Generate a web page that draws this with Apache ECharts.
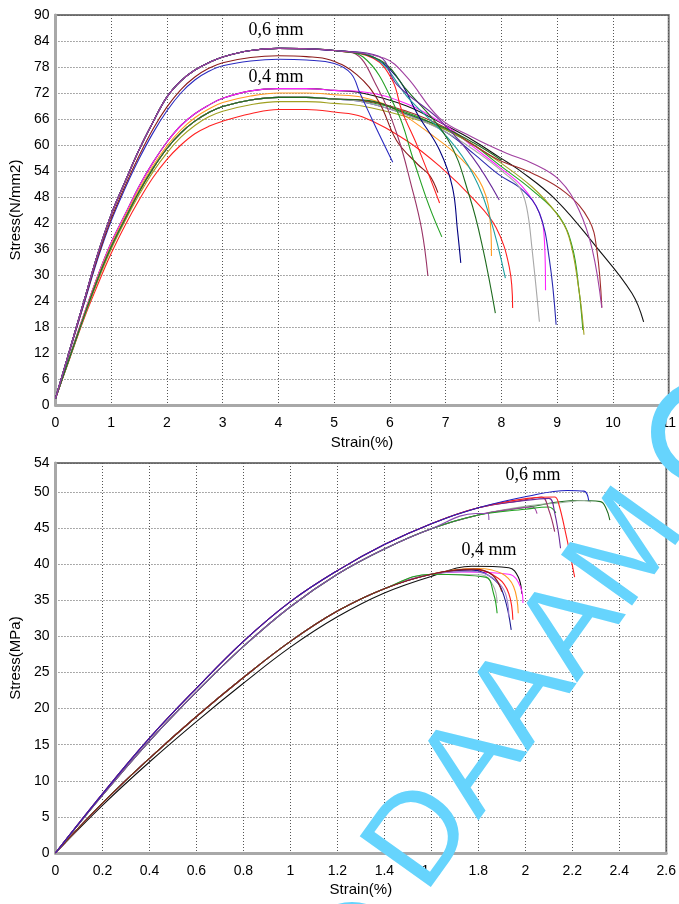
<!DOCTYPE html>
<html>
<head>
<meta charset="utf-8">
<script src="https://cdn.jsdelivr.net/npm/echarts@6/dist/echarts.min.js"></script>
<style>
  html, body { margin: 0; padding: 0; background: #fff; }
  #chart { width: 679px; height: 904px; }
</style>
</head>
<body>
<div id="chart"></div>
<script>
// ---- top panel: Stress(N/mm2) vs Strain(%) ----
const topXTicks = [0, 1, 2, 3, 4, 5, 6, 7, 8, 9, 10, 11]
const topYTicks = [0, 6, 12, 18, 24, 30, 36, 42, 48, 54, 60, 66, 72, 78, 84, 90]

// rising parts, 0.6 mm
const rise06 = [[0,1.5],[0.25,12.5],[0.5,23.5],[0.75,34.5],[1,44],[1.25,51.6],[1.5,58.9],[1.75,65.3],[2,71.1],[2.25,74.8],[2.5,77.3],[2.75,79],[3,80.3],[3.5,81.8],[4,82.3],[4.5,82.2],[5,81.8]]
const rise06b = [[0,1.5],[0.25,12.3],[0.5,23],[0.75,33.8],[1,43],[1.25,50.6],[1.5,57.5],[1.75,63.7],[2,68.8],[2.25,72.8],[2.5,75.7],[2.75,77.7],[3,79],[3.5,80.2],[4,80.6],[4.5,80.4]]
const rise06c = [[0,1.5],[0.25,12.2],[0.5,22.8],[0.75,33.4],[1,42.5],[1.25,50],[1.5,56.8],[1.75,62.8],[2,67.9],[2.25,72],[2.5,75],[2.75,77],[3,78.3],[3.5,79.4],[4,79.8],[4.5,79.6]]
// rising parts, 0.4 mm
const rise04a = [[0,1.5],[0.25,11],[0.5,20.5],[0.75,29.5],[1,37.5],[1.25,44],[1.5,50.5],[1.75,56],[2,60.7],[2.25,64.5],[2.5,67.2],[2.75,69.2],[3,70.8],[3.5,72.5],[4,73],[4.5,73],[5,72.6]]
const rise04b = [[0,1.5],[0.25,11],[0.5,20.3],[0.75,29.2],[1,37],[1.25,43.5],[1.5,49.8],[1.75,55.2],[2,59.8],[2.25,63.5],[2.5,66.3],[2.75,68.3],[3,69.8],[3.5,71.3],[4,72],[4.5,72],[5,71.6]]
const rise04c = [[0,1.5],[0.25,10.8],[0.5,20],[0.75,28.8],[1,36.5],[1.25,43],[1.5,49.2],[1.75,54.6],[2,59.2],[2.25,62.8],[2.5,65.5],[2.75,67.5],[3,68.9],[3.5,70.4],[4,71],[4.5,71],[5,70.6]]
const rise04d = [[0,1.5],[0.25,10.6],[0.5,19.7],[0.75,28.3],[1,36],[1.25,42.5],[1.5,48.5],[1.75,53.8],[2,58.2],[2.25,61.8],[2.5,64.5],[2.75,66.5],[3,67.8],[3.5,69.3],[4,70],[4.5,70],[5,69.6]]
const rise04e = [[0,1.5],[0.25,10.5],[0.5,19.5],[0.75,27.5],[1,35],[1.25,41.5],[1.5,47.3],[1.75,52.5],[2,56.7],[2.25,60],[2.5,62.6],[2.75,64.3],[3,65.5],[3.5,67.2],[4,68.2],[4.5,68.2],[5,67.6]]

// failure tails, top panel
const tBlue6 = [[5,78.8],[5.3,76.5],[5.46,72],[5.75,64],[6.05,56]]
const tMaroon6 = [[4.93,79.6],[5.41,76.2],[5.8,70],[6.12,61],[6.5,55.5],[6.71,53],[6.86,49]]
const tRed6 = [[5.7,80],[6.04,75],[6.21,68],[6.5,59.5],[6.89,46.6]]
const tMauve6 = [[5.34,81.3],[5.77,73.4],[6.12,62.7],[6.39,50.3],[6.57,40.4],[6.68,29.8]]
const tGreen6 = [[5.52,80.3],[6.12,68],[6.41,57],[6.7,46],[6.93,38.8]]
const tNavy6 = [[5.6,80.8],[6.12,75.7],[6.5,67],[6.89,58.8],[7.12,50.3],[7.21,40.4],[7.27,32.8]]
const tTeal6 = [[5.7,80.3],[6.36,70.4],[7.07,61.2],[7.48,53.5],[7.79,43.4],[8.07,29.3]]
const tDkGreen6 = [[5.82,79.6],[6.3,72.7],[7.04,61.2],[7.43,48],[7.66,36.5],[7.89,21.2]]
const tViolet6 = [[5.8,80.5],[6.12,74],[6.89,65.8],[7.48,57.2],[7.96,47.3]]
const tPurple6 = [[5.9,80],[6.3,75.7],[6.89,66.2],[7.48,61.8],[8.09,58.1],[8.55,55.8],[9.04,51.9],[9.39,45],[9.63,35.8],[9.8,22.4]]
const tBlack4 = [[5.5,72],[6.3,69],[7,64.5],[7.5,61],[7.96,57.2],[8.32,54.2],[8.98,47.3],[9.7,36.5],[10.34,25.8],[10.55,19.2]]
const tMagenta4 = [[5.5,72.3],[6.3,69.5],[7,64.5],[7.5,59.5],[7.96,54.9],[8.38,50.3],[8.68,44.3],[8.77,38],[8.79,26.5]]
const tOrange4 = [[5.5,71],[6,68.8],[6.71,62.7],[7.3,56.5],[7.66,50.3],[7.8,42],[7.82,34.4]]
const tRed4 = [[5.5,66.5],[6.3,61],[6.9,55],[7.5,47.5],[7.9,41],[8.14,31.8],[8.2,22.4]]
const tBlue4 = [[5.5,70],[6.3,67],[7,63],[7.5,58],[7.96,53.1],[8.38,49.6],[8.68,44.3],[8.86,33.5],[8.98,18.5]]
const tGreen4 = [[5.5,70.2],[6.3,67.5],[7,63.5],[7.5,60],[7.96,55.4],[8.55,49.6],[9.04,43.4],[9.27,36.5],[9.39,26.5],[9.46,17.3]]
const tOlive4 = [[5.5,69],[6.3,66.5],[7,63.5],[7.5,60],[7.96,56.1],[8.55,50.3],[8.98,44.3],[9.21,38.8],[9.39,26.5],[9.48,16.2]]
const tBrown4 = [[5.5,70.3],[6.3,67.8],[7,64],[7.5,60],[7.96,56.5],[8.55,53.5],[9.16,48.9],[9.57,42.7],[9.71,35.8],[9.8,22.5]]
const tGray4 = [[5.5,70],[6.3,67],[7,63],[7.6,58],[8.1,53],[8.32,50.3],[8.45,45.7],[8.55,35.8],[8.68,19.2]]
const tDkGreen4 = [[5.6,70.3],[6.3,67.2],[7,63.8],[7.5,60.5],[8,56.5]]

// ---- bottom panel: Stress(MPa) vs Strain(%) ----
const botXTicks = [0, 0.2, 0.4, 0.6, 0.8, 1, 1.2, 1.4, 1.6, 1.8, 2, 2.2, 2.4, 2.6]
const botYTicks = [0, 5, 10, 15, 20, 25, 30, 35, 40, 45, 50, 54]

const riseM6 = [[0,0],[0.2,8.2],[0.4,15.9],[0.6,22.8],[0.8,29.3],[1,34.8],[1.2,39.1],[1.4,42.7],[1.6,45.6],[1.8,47.8]]
const riseM6b = [[0,0],[0.2,8],[0.4,15.5],[0.6,22.3],[0.8,28.6],[1,34.1],[1.2,38.6],[1.4,42.1],[1.6,44.9],[1.8,46.8]]
const riseM4 = [[0,0],[0.2,6.9],[0.4,13.1],[0.6,18.9],[0.8,24.3],[1,29.3],[1.2,33.5],[1.4,36.6],[1.6,38.6]]
const riseM4b = [[0,0],[0.2,6.6],[0.4,12.6],[0.6,18.2],[0.8,23.5],[1,28.5],[1.2,32.7],[1.4,36],[1.6,38.3]]

const mBlue6 = [[2.01,49.4],[2.18,50.2],[2.25,50.1],[2.27,48.8]]
const mRed6 = [[2.01,49.1],[2.125,49.3],[2.14,48.6],[2.175,43.8],[2.21,38.2]]
const mViolet6 = [[2,48.8],[2.1,49.1],[2.125,47.1],[2.15,42.2]]
const mMauve6 = [[2,48.9],[2.07,49.3],[2.1,47.5],[2.125,44.5]]
const mDkGreen6 = [[2.01,47.9],[2.22,48.8],[2.32,48.65],[2.344,47.7],[2.36,46.1]]
const mGray6 = [[2,48],[2.15,48.5],[2.25,48.8],[2.28,48.6]]
const mPurple6 = [[1.94,47.6],[2.03,47.9],[2.05,47]]
const mGreen6 = [[2,47.6],[2.1,47.9],[2.13,47.1]]
const mPurpleShort6 = [[0,0],[0.2,8],[0.4,15.5],[0.6,22.3],[0.8,28.6],[1,34.1],[1.2,38.6],[1.4,42.1],[1.6,44.9],[1.79,47],[1.84,47],[1.845,46.1]]

const mBlack4 = [[1.773,39.7],[1.93,39.5],[1.97,38.2],[1.985,35.9]]
const mMagenta4 = [[1.73,38.9],[1.93,38.6],[1.98,36.8],[1.99,34.6]]
const mOrange4 = [[1.8,39.4],[1.9,38.7],[1.95,36.9],[1.97,33.2]]
const mRed4 = [[1.79,39.2],[1.886,38],[1.93,35.9],[1.947,32.3]]
const mNavy4 = [[1.77,39.2],[1.87,37.8],[1.91,35.5],[1.94,30.9]]
const mLavender4 = [[1.77,39],[1.9,36.9],[1.93,32.7]]
const mGray4 = [[1.815,38.5],[1.865,36.9],[1.88,34.6]]
const mGreen4 = [[1.83,38.2],[1.865,35.9],[1.88,33.2]]
const mMaroon4 = [[1.78,39.3],[1.86,38.5],[1.9,36.2]]

const chart = echarts.init(document.getElementById('chart'))

const line = (grid, color, data) => ({
  type: 'line',
  xAxisIndex: grid,
  yAxisIndex: grid,
  data: data,
  showSymbol: false,
  smooth: 0.4,
  animation: false,
  lineStyle: { color: color, width: 1.1 }
})

const series = [
  // top, 0.4 mm
  line(0, '#111111', rise04a.concat(tBlack4)),
  line(0, '#ff22ff', rise04a.concat(tMagenta4)),
  line(0, '#ff9a20', rise04b.concat(tOrange4)),
  line(0, '#ff2020', rise04e.concat(tRed4)),
  line(0, '#2a2ab0', rise04c.concat(tBlue4)),
  line(0, '#1fa01f', rise04c.concat(tGreen4)),
  line(0, '#a0a020', rise04d.concat(tOlive4)),
  line(0, '#a02c2c', rise04c.concat(tBrown4)),
  line(0, '#a8a8a8', rise04c.concat(tGray4)),
  line(0, '#1e6b1e', rise04c.concat(tDkGreen4)),
  // top, 0.6 mm
  line(0, '#2a2ac0', rise06c.concat(tBlue6)),
  line(0, '#8b1a1a', rise06b.concat(tMaroon6)),
  line(0, '#ff2020', rise06.concat(tRed6)),
  line(0, '#993366', rise06.concat(tMauve6)),
  line(0, '#22a022', rise06.concat(tGreen6)),
  line(0, '#000080', rise06.concat(tNavy6)),
  line(0, '#20a0a0', rise06.concat(tTeal6)),
  line(0, '#1e6b1e', rise06.concat(tDkGreen6)),
  line(0, '#6a2a9a', rise06.concat(tViolet6)),
  line(0, '#a040a0', rise06.concat(tPurple6)),
  // bottom, 0.4 mm
  line(1, '#111111', riseM4b.concat(mBlack4)),
  line(1, '#ff22ff', riseM4.concat(mMagenta4)),
  line(1, '#ff9a20', riseM4.concat(mOrange4)),
  line(1, '#ff2020', riseM4.concat(mRed4)),
  line(1, '#1a1a90', riseM4.concat(mNavy4)),
  line(1, '#9a7ad0', riseM4.concat(mLavender4)),
  line(1, '#a8a8a8', riseM4.concat(mGray4)),
  line(1, '#1fa01f', riseM4.concat(mGreen4)),
  line(1, '#8b1a1a', riseM4.concat(mMaroon4)),
  // bottom, 0.6 mm
  line(1, '#1e6b1e', riseM6b.concat(mDkGreen6)),
  line(1, '#98b098', riseM6b.concat(mGray6)),
  line(1, '#a040a0', riseM6b.concat(mPurple6)),
  line(1, '#1fa01f', riseM6b.concat(mGreen6)),
  line(1, '#8a4ab0', mPurpleShort6),
  line(1, '#993366', riseM6.concat(mMauve6)),
  line(1, '#6a2a9a', riseM6.concat(mViolet6)),
  line(1, '#ff2020', riseM6.concat(mRed6)),
  line(1, '#2020c0', riseM6.concat(mBlue6))
]

const tickFont = { fontFamily: 'Liberation Sans', fontSize: 14, color: '#000' }
const nameFont = { fontFamily: 'Liberation Sans', fontSize: 15, color: '#000' }

const xAxis = (grid, ticks, nameGap) => ({
  type: 'value',
  gridIndex: grid,
  min: ticks[0],
  max: ticks[ticks.length - 1],
  interval: ticks[1] - ticks[0],
  name: 'Strain(%)',
  nameLocation: 'middle',
  nameGap: nameGap,
  nameTextStyle: nameFont,
  axisLine: { lineStyle: { color: '#a8a8a8', width: 3 } },
  axisTick: { show: false },
  axisLabel: Object.assign({ margin: 11 }, tickFont),
  splitLine: { show: true, lineStyle: { color: '#555', type: [1, 2], width: 1 } }
})

const yAxis = (grid, ticks, name) => ({
  type: 'value',
  gridIndex: grid,
  min: ticks[0],
  max: ticks[ticks.length - 1],
  interval: ticks[2] - ticks[1],
  name: name,
  nameLocation: 'middle',
  nameGap: 18,
  nameTextStyle: nameFont,
  axisLine: { show: true, lineStyle: { color: '#a8a8a8', width: 3 } },
  axisTick: { show: false },
  axisLabel: Object.assign({ margin: 6 }, tickFont),
  splitLine: { show: true, lineStyle: { color: '#555', type: [1, 2], width: 1 } }
})

const note = (x, y, text) => ({
  type: 'text',
  x: x,
  y: y,
  z: 50,
  style: {
    text: text,
    fontFamily: 'Liberation Serif',
    fontSize: 18,
    fill: '#000',
    textAlign: 'center',
    textVerticalAlign: 'middle'
  }
})

const ring = (cx, cy, r) => ({
  type: 'circle',
  z: 100,
  shape: { cx: cx, cy: cy, r: r },
  style: { fill: 'none', stroke: '#66d4fd', lineWidth: 14 }
})

chart.setOption({
  animation: false,
  grid: [
    { left: 54, top: 15, width: 616, height: 390, show: true, borderColor: '#7a7a7a', borderWidth: 2 },
    { left: 54, top: 463, width: 615, height: 390, show: true, borderColor: '#7a7a7a', borderWidth: 2 }
  ],
  xAxis: [xAxis(0, topXTicks, 30), xAxis(1, botXTicks, 29)],
  yAxis: [yAxis(0, topYTicks, 'Stress(N/mm2)'), yAxis(1, botYTicks, 'Stress(MPa)')],
  series: series,
  graphic: [
    note(276, 30, '0,6 mm'),
    note(276, 77, '0,4 mm'),
    note(533, 475, '0,6 mm'),
    note(489, 550, '0,4 mm'),
    {
      type: 'text',
      x: 448,
      y: 912,
      rotation: 0.95,
      z: 100,
      style: {
        text: 'DAAAM',
        fontFamily: 'Liberation Sans',
        fontSize: 127,
        fill: '#66d4fd',
        textAlign: 'left',
        textVerticalAlign: 'bottom'
      }
    },
    ring(702, 432, 44),
    ring(352, 951, 42)
  ]
})
</script>
</body>
</html>
